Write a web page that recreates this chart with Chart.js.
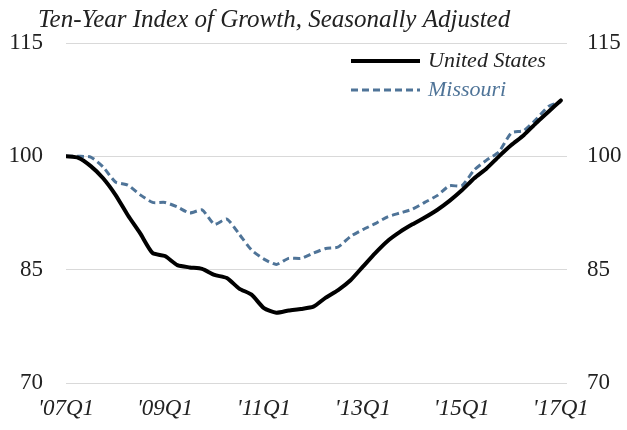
<!DOCTYPE html>
<html>
<head>
<meta charset="utf-8">
<script src="https://cdn.jsdelivr.net/npm/chart.js@4/dist/chart.umd.min.js"></script>
<style>
  html, body { margin: 0; padding: 0; background: #ffffff; }
  canvas { display: block; }
</style>
</head>
<body>
<canvas id="growth" width="627" height="430"></canvas>
<script>
// Quarterly periods, 2007Q1 through 2017Q1
const quarters = [
  "'07Q1","'07Q2","'07Q3","'07Q4","'08Q1","'08Q2","'08Q3","'08Q4",
  "'09Q1","'09Q2","'09Q3","'09Q4","'10Q1","'10Q2","'10Q3","'10Q4",
  "'11Q1","'11Q2","'11Q3","'11Q4","'12Q1","'12Q2","'12Q3","'12Q4",
  "'13Q1","'13Q2","'13Q3","'13Q4","'14Q1","'14Q2","'14Q3","'14Q4",
  "'15Q1","'15Q2","'15Q3","'15Q4","'16Q1","'16Q2","'16Q3","'16Q4",
  "'17Q1"
];

// Growth index (2007Q1 = 100)
const unitedStates = [
  100.0, 99.8, 98.7, 97.1, 94.9, 92.2, 89.8, 87.2,
  86.8, 85.6, 85.3, 85.1, 84.3, 83.9, 82.5, 81.7,
  79.9, 79.3, 79.6, 79.8, 80.1, 81.3, 82.3, 83.6,
  85.4, 87.2, 88.8, 90.0, 91.0, 91.9, 92.9, 94.1,
  95.5, 97.1, 98.4, 100.0, 101.5, 102.8, 104.4, 105.9,
  107.4
];
const missouri = [
  100.0, 100.0, 99.9, 98.6, 96.6, 96.2, 94.9, 93.9,
  93.9, 93.3, 92.5, 92.9, 91.0, 91.7, 89.7, 87.6,
  86.4, 85.7, 86.5, 86.5, 87.2, 87.8, 88.0, 89.4,
  90.3, 91.1, 92.0, 92.5, 93.0, 93.9, 94.8, 96.1,
  96.1, 98.2, 99.5, 100.6, 103.1, 103.4, 104.9, 106.6,
  107.2
];

const yTicks = [70, 85, 100, 115];
const titleText = 'Ten-Year Index of Growth, Seasonally Adjusted';

const SERIF = '"Liberation Serif", "DejaVu Serif", serif';
const INK = '#222222';
const MO_BLUE = '#4f7498';

const toPoints = arr => arr.map((v, i) => ({ x: i, y: v }));

// Title and in-plot legend drawn on the canvas
const decorations = {
  id: 'decorations',
  afterDraw(chart) {
    const ctx = chart.ctx;
    ctx.save();
    ctx.textAlign = 'left';
    ctx.textBaseline = 'alphabetic';
    ctx.fillStyle = INK;
    ctx.font = 'italic 25px ' + SERIF;
    ctx.fillText(titleText, 38, 27);

    const items = chart.data.datasets;
    const rows = [61, 90];
    items.forEach((ds, k) => {
      const y = rows[k];
      ctx.beginPath();
      ctx.strokeStyle = ds.borderColor;
      ctx.lineWidth = ds.borderWidth;
      ctx.setLineDash(ds.borderDash || []);
      ctx.moveTo(351, y);
      ctx.lineTo(420, y);
      ctx.stroke();
      ctx.setLineDash([]);
      ctx.fillStyle = k === 0 ? INK : MO_BLUE;
      ctx.font = 'italic 22px ' + SERIF;
      ctx.fillText(ds.label, 428, y + 6);
    });
    ctx.restore();
  }
};

new Chart(document.getElementById('growth'), {
  type: 'line',
  data: {
    datasets: [
      {
        label: 'United States',
        data: toPoints(unitedStates),
        borderColor: '#000000',
        borderWidth: 4,
        pointRadius: 0,
        tension: 0.2,
        borderCapStyle: 'round',
        borderJoinStyle: 'round',
        yAxisID: 'y'
      },
      {
        label: 'Missouri',
        data: toPoints(missouri),
        borderColor: MO_BLUE,
        borderWidth: 3,
        borderDash: [7, 4],
        pointRadius: 0,
        tension: 0.2,
        yAxisID: 'y'
      }
    ]
  },
  options: {
    responsive: false,
    animation: false,
    layout: { padding: { top: 43, left: 0, right: 0, bottom: 0 } },
    plugins: {
      legend: { display: false },
      title: { display: false },
      tooltip: { enabled: false }
    },
    scales: {
      x: {
        type: 'linear',
        min: 0,
        max: 40.5,
        grid: { display: false, drawTicks: false },
        border: { display: false },
        ticks: {
          stepSize: 8,
          includeBounds: false,
          autoSkip: false,
          maxRotation: 0,
          padding: 12,
          color: INK,
          font: { family: SERIF, size: 23, style: 'italic' },
          callback: v => quarters[v] ?? ''
        },
        afterFit: s => { s.height = 47; }
      },
      y: {
        position: 'left',
        min: 70,
        max: 115,
        afterBuildTicks: s => { s.ticks = yTicks.map(v => ({ value: v })); },
        grid: { color: '#d9d9d9', lineWidth: 1, drawTicks: false },
        border: { display: false },
        ticks: {
          padding: 23,
          color: INK,
          font: { family: SERIF, size: 23 }
        },
        afterFit: s => { s.width = 66; }
      },
      y2: {
        position: 'right',
        min: 70,
        max: 115,
        afterBuildTicks: s => { s.ticks = yTicks.map(v => ({ value: v })); },
        grid: { display: false, drawTicks: false },
        border: { display: false },
        ticks: {
          padding: 20,
          color: INK,
          font: { family: SERIF, size: 23 }
        },
        afterFit: s => { s.width = 60; }
      }
    }
  },
  plugins: [decorations]
});
</script>
</body>
</html>
